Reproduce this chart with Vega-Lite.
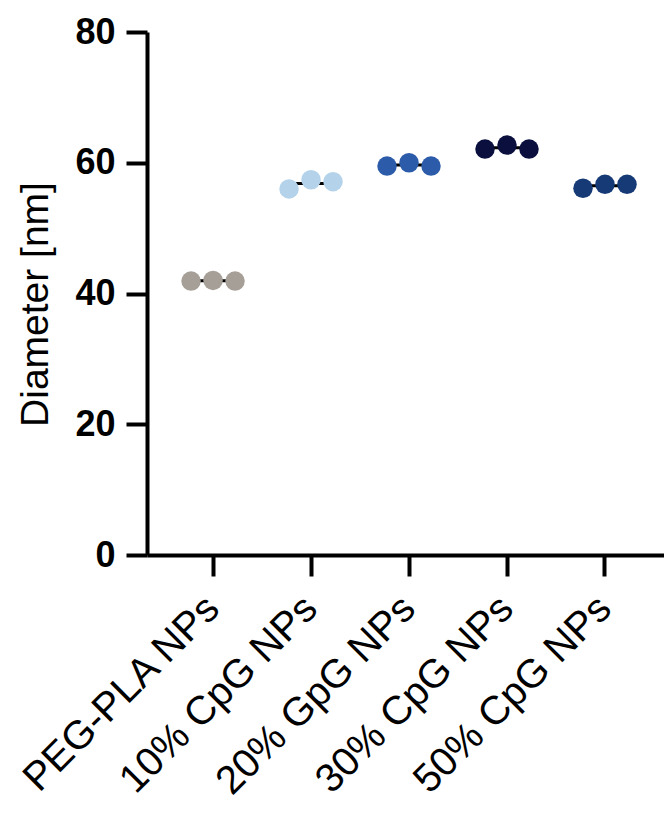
{
  "$schema": "https://vega.github.io/schema/vega-lite/v6.json",
  "width": 517,
  "height": 523,
  "autosize": "none",
  "padding": {"left": 147, "top": 32, "right": 0, "bottom": 258},
  "background": "white",
  "config": {
    "view": {"stroke": null},
    "font": "Liberation Sans",
    "axis": {
      "domainColor": "black",
      "domainWidth": 4,
      "tickColor": "black",
      "tickWidth": 4,
      "tickSize": 21,
      "labelColor": "black",
      "titleColor": "black",
      "grid": false,
      "labelFont": "Liberation Sans",
      "titleFont": "Liberation Sans",
      "labelLimit": 0
    }
  },
  "data": {
    "values": [
      {"group": "PEG-PLA NPs", "rep": 1, "diameter": 41.9},
      {"group": "PEG-PLA NPs", "rep": 2, "diameter": 42.0},
      {"group": "PEG-PLA NPs", "rep": 3, "diameter": 41.9},
      {"group": "10% CpG NPs", "rep": 1, "diameter": 56.0},
      {"group": "10% CpG NPs", "rep": 2, "diameter": 57.4},
      {"group": "10% CpG NPs", "rep": 3, "diameter": 57.1},
      {"group": "20% GpG NPs", "rep": 1, "diameter": 59.5},
      {"group": "20% GpG NPs", "rep": 2, "diameter": 60.0},
      {"group": "20% GpG NPs", "rep": 3, "diameter": 59.5},
      {"group": "30% CpG NPs", "rep": 1, "diameter": 62.1},
      {"group": "30% CpG NPs", "rep": 2, "diameter": 62.7},
      {"group": "30% CpG NPs", "rep": 3, "diameter": 62.1},
      {"group": "50% CpG NPs", "rep": 1, "diameter": 56.1},
      {"group": "50% CpG NPs", "rep": 2, "diameter": 56.7},
      {"group": "50% CpG NPs", "rep": 3, "diameter": 56.7}
    ]
  },
  "encoding": {
    "x": {
      "field": "group",
      "type": "nominal",
      "sort": null,
      "scale": {"type": "band", "paddingInner": 0, "paddingOuter": 0.138, "align": 0.63},
      "axis": {
        "title": null,
        "labelAngle": -45,
        "labelAlign": "right",
        "labelBaseline": "middle",
        "labelFontSize": 40,
        "labelPadding": 26
      }
    },
    "y": {
      "field": "diameter",
      "type": "quantitative",
      "scale": {"domain": [0, 80], "nice": false, "zero": true},
      "axis": {
        "values": [0, 20, 40, 60, 80],
        "labelFontSize": 36,
        "labelFontWeight": "bold",
        "labelPadding": 11,
        "title": "Diameter [nm]",
        "titleFontSize": 39,
        "titleFontWeight": "normal",
        "titlePadding": 19,
        "titleY": 272
      }
    }
  },
  "layer": [
    {
      "mark": {"type": "tick", "color": "black", "thickness": 3, "size": 44},
      "encoding": {
        "y": {"aggregate": "mean", "field": "diameter", "type": "quantitative"}
      }
    },
    {
      "mark": {"type": "point", "filled": true, "opacity": 1, "size": 380, "strokeWidth": 0},
      "encoding": {
        "xOffset": {
          "field": "rep",
          "type": "ordinal",
          "scale": {"type": "point", "range": [27, 71], "padding": 0}
        },
        "color": {
          "field": "group",
          "type": "nominal",
          "legend": null,
          "scale": {
            "domain": ["PEG-PLA NPs", "10% CpG NPs", "20% GpG NPs", "30% CpG NPs", "50% CpG NPs"],
            "range": ["#a69f97", "#b4d3ea", "#2c5ba9", "#0a0f3e", "#163a76"]
          }
        }
      }
    }
  ]
}
